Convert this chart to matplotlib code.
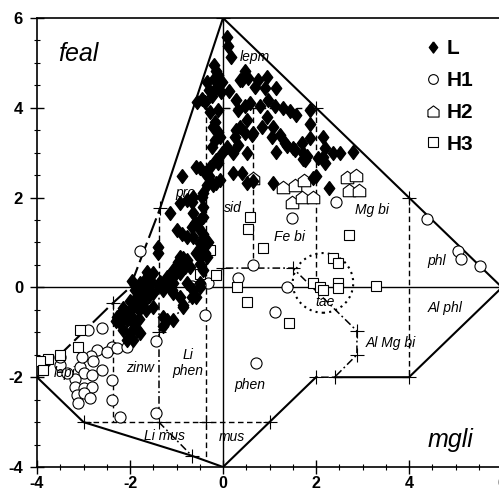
import matplotlib
matplotlib.use("Agg")
import matplotlib.pyplot as plt
from matplotlib.lines import Line2D
from matplotlib.patches import Ellipse

plt.rcParams["font.family"] = ["Liberation Sans", "DejaVu Sans"]
plt.rcParams["axes.unicode_minus"] = False

# --- data (mgli vs feal) ---
L_pts = [
    (0.09, 5.57), (0.1, 5.37), (0.18, 5.13), (-0.2, 4.95), (-0.15, 4.83), (-0.1, 4.72), (-0.2, 4.65),
    (-0.03, 4.57), (-0.35, 4.58), (-0.14, 4.45), (-0.3, 4.4), (-0.46, 4.2), (-0.39, 4.12), (-0.55, 4.12),
    (-0.24, 4.27), (-0.05, 4.35), (0.12, 4.38), (0.37, 4.62), (0.47, 4.82),
    (0.4, 4.62), (0.54, 4.66), (0.76, 4.62), (0.94, 4.69), (1.15, 4.45), (0.69, 4.47), (0.9, 4.43),
    (0.29, 4.17), (0.47, 4.03), (0.58, 4.1), (0.8, 4.03), (0.97, 4.17), (1.3, 3.99), (1.44, 3.93),
    (1.58, 3.84), (1.87, 3.95), (1.87, 3.65), (0.94, 3.8), (0.83, 3.58), (1.08, 3.58), (1.05, 3.36),
    (1.23, 3.39), (1.33, 3.21), (1.51, 3.1), (1.69, 3.21), (1.87, 3.32), (2.16, 3.36), (2.19, 3.1),
    (2.05, 2.88), (1.8, 2.93), (0.51, 3.73), (0.37, 3.58), (0.62, 3.39), (0.26, 3.36), (0.51, 2.99),
    (1.12, 4.03), (1.37, 3.14), (1.55, 3.06), (1.73, 2.99), (1.76, 2.84), (2.37, 2.99), (2.52, 2.99),
    (2.8, 3.02), (2.19, 2.76), (2.01, 2.47), (2.27, 2.21), (1.08, 2.32), (0.65, 2.36), (1.94, 2.43),
    (2.16, 2.91), (1.15, 3.02), (1.73, 2.87),
    (-0.28, 3.91), (-0.1, 3.95), (-0.17, 3.69), (-0.21, 3.58), (-0.1, 3.45), (-0.17, 3.28), (-0.06, 3.36),
    (-0.24, 3.13), (0.08, 3.13), (-0.03, 2.99), (-0.14, 2.84), (-0.28, 2.69), (-0.5, 2.65), (-0.39, 2.54),
    (-0.06, 2.39), (-0.35, 2.28), (-0.89, 2.47), (-0.42, 2.1), (-0.21, 2.28), (0.22, 2.99), (0.33, 3.17),
    (0.47, 3.43), (0.22, 2.54), (0.4, 2.54), (0.65, 3.43), (0.33, 3.95), (0.29, 3.51), (0.51, 2.32),
    (-0.57, 2.69), (-0.31, 2.47), (-0.14, 2.32), (-0.1, 2.76),
    (-0.78, 1.95), (-1.14, 1.65), (-0.92, 1.87), (-0.67, 1.91), (-0.46, 2.02), (-0.42, 1.8), (-0.64, 1.65),
    (-0.5, 1.5), (-0.99, 1.28), (-0.89, 1.2), (-0.78, 1.13), (-0.67, 1.35), (-0.53, 1.35), (-0.42, 1.2),
    (-0.39, 0.98), (-0.5, 0.98), (-0.92, 0.68), (-0.78, 0.61), (-0.71, 0.46), (-0.85, 0.53), (-0.5, 0.53),
    (-0.39, 0.76), (-0.42, 0.39), (-1.39, 0.76), (-1.39, 0.91), (-0.64, 1.13), (-0.32, 1.02), (-0.85, 0.65),
    (-0.5, 0.68), (-0.96, 0.57), (-1.07, 0.39), (-0.6, 1.43), (-0.42, 1.57), (-0.64, 2.02),
    (-1.64, 0.35), (-1.57, 0.16), (-1.35, 0.13), (-1.21, 0.16), (-1.07, 0.09), (-1.79, 0.02), (-1.89, -0.06),
    (-1.71, -0.13), (-1.5, -0.13), (-1.78, 0.09), (-1.64, 0.24), (-1.5, 0.31), (-1.21, 0.24), (-1.07, 0.24),
    (-0.93, 0.31), (-0.82, 0.46), (-0.57, 0.76), (-0.42, 0.91), (-0.35, 0.68), (-0.78, 0.09), (-0.64, -0.06),
    (-0.5, 0.09), (-1.07, -0.13), (-0.93, -0.21), (-1.86, -0.28), (-1.71, -0.35), (-1.93, -0.43),
    (-2.07, -0.58), (-2.29, -0.65), (-2.22, -0.8), (-2.07, -0.73), (-1.93, -0.8), (-2.14, -0.95),
    (-2.0, -1.02), (-1.86, -0.95), (-1.93, -1.17), (-2.07, -1.17), (-1.5, -0.43), (-1.28, -0.65),
    (-1.07, -0.73), (-0.85, -0.43), (-0.67, -0.21), (-0.5, 0.02), (-1.64, -0.06), (-1.57, 0.09),
    (-0.57, -0.21), (-1.95, 0.15), (-1.8, -0.05), (-1.7, 0.1), (-1.6, -0.2), (-1.4, 0.05), (-1.3, -0.05),
    (-1.2, 0.05), (-1.1, -0.05), (-1.9, -0.25), (-1.75, -0.2), (-2.0, -0.3), (-1.8, -0.5), (-2.15, -0.45),
    (-1.65, -0.5), (-2.3, -0.75), (-1.95, -0.65), (-1.8, -0.7), (-1.21, -0.73), (-1.28, -0.87),
    (-0.85, -0.39), (-2.21, -0.69), (-2.14, -0.5), (-1.78, -1.02),
]
H1_pts = [
    (2.43, 1.9), (1.48, 1.54), (4.38, 1.52), (5.05, 0.8), (5.12, 0.63), (5.53, 0.47), (1.38, 0.0),
    (1.12, -0.55), (0.72, -1.69), (0.65, 0.5), (0.33, 0.2), (-0.33, 0.1), (-0.67, 0.03), (-0.5, 0.05),
    (-1.79, 0.82), (-0.39, -0.62), (-1.45, -1.2), (-1.44, -2.8), (-2.21, -2.88),
    (-2.9, -0.95), (-2.6, -0.91), (-2.39, -1.32), (-2.72, -1.4), (-2.84, -1.53), (-2.79, -1.64),
    (-2.5, -1.43), (-2.29, -1.36), (-2.07, -1.32), (-3.51, -1.73), (-3.08, -1.77), (-3.0, -1.91),
    (-2.61, -1.84), (-3.18, -2.03), (-2.82, -1.95), (-2.39, -2.06), (-3.18, -2.21), (-3.0, -2.25),
    (-2.82, -2.21), (-3.15, -2.4), (-3.0, -2.36), (-2.86, -2.47), (-3.11, -2.58), (-2.39, -2.51),
    (-3.51, -1.54), (-3.36, -1.91), (-3.04, -1.54),
]
H2_pts = [
    (0.65, 2.43), (1.3, 2.24), (1.55, 2.28), (1.75, 2.4), (1.48, 1.9), (1.7, 2.02), (1.93, 2.02),
    (2.66, 2.45), (2.87, 2.5), (2.7, 2.17), (2.92, 2.18),
]
H3_pts = [
    (0.58, 1.57), (0.54, 1.31), (0.87, 0.87), (-0.28, 0.83), (-0.5, 0.3), (-0.14, 0.27), (0.3, 0.02),
    (0.52, -0.32), (1.41, -0.8), (2.7, 1.17), (2.37, 0.65), (2.48, 0.54), (1.94, 0.09), (2.09, 0.0),
    (2.16, -0.06), (2.48, 0.09), (2.48, -0.02), (3.3, 0.03), (-3.08, -0.95), (-3.11, -1.32),
    (-3.5, -1.5), (-3.76, -1.6), (-3.94, -1.65), (-3.87, -1.85),
]

# field boundaries
outer_solid = [(-1.35, 1.77), (0, 6), (2, 4), (4, 2), (6, 0), (4, -2), (2.4, -2)]
outer_solid2 = [(2, -2), (1, -3), (0, -4), (-0.67, -3.75), (-3, -3), (-4, -2)]
outer_dashed = [(-4, -2), (-2.37, -0.35), (-2, 0), (-1.35, 1.77)]
dashed_lines = [
    [(-0.37, 4), (2, 4)], [(-0.37, 4), (-0.37, -3.86)], [(0.65, 4), (0.65, 0.43)],
    [(2, 4), (2, 0.1)], [(4, 2), (4, -2)], [(-1.37, 1.77), (-1.37, 0)],
    [(-2.37, -0.35), (-2.37, -3)], [(-3, -3), (1, -3)],
]
dashdot_lines = [
    [(-1.38, 0), (-1.38, -3)], [(-1.38, -1), (0, 0.43), (1.5, 0.43), (2.88, -0.97), (2.88, -1.5), (2.4, -2), (2, -2)],
    [(-1.38, -3), (-0.67, -3.75)],
]
crosses = [(0, 6), (2, 4), (4, 2), (6, 0), (4, -2), (2.4, -2), (2, -2), (1, -3), (-0.67, -3.75), (-3, -3),
           (-2.37, -0.35), (-1.35, 1.77), (0, 4), (-1.38, -1), (-1.38, -3), (-0.37, -3), (0, 0.43),
           (1.5, 0.43), (2.88, -0.97), (2.88, -1.5)]
field_labels = [("lepm", 0.69, 5.13), ("pro", -0.8, 2.1), ("sid", 0.22, 1.77), ("Fe bi", 1.42, 1.12),
                ("Mg bi", 3.2, 1.72), ("phl", 4.6, 0.59), ("Al phl", 4.77, -0.46), ("tae", 2.2, -0.33),
                ("Al Mg bi", 3.6, -1.24), ("phen", 0.58, -2.17), ("Li\nphen", -0.75, -1.68),
                ("zinw", -1.78, -1.8), ("lepi", -3.4, -1.9), ("Li mus", -1.25, -3.31), ("mus", 0.2, -3.33)]

fig = plt.figure(figsize=(4.99, 4.93), dpi=100)
ax = fig.add_axes([37/499, 26/493, 465/499, 449/493])
ax.set_xlim(-4, 6); ax.set_ylim(-4, 6)

ax.axhline(0, color="black", lw=1.0, zorder=1)
ax.axvline(0, color="black", lw=1.0, zorder=1)

def draw(pts, **kw):
    xs, ys = zip(*pts)
    ax.plot(xs, ys, color="black", zorder=2, **kw)

draw(outer_solid, lw=1.5)
draw(outer_solid2, lw=1.5)
draw(outer_dashed, lw=1.5, dashes=(10, 2.5))
for seg in dashed_lines:
    draw(seg, lw=1.0, dashes=(4, 2.5))
for seg in dashdot_lines:
    draw(seg, lw=1.1, dashes=(5, 2, 1.2, 2))
ax.add_patch(Ellipse((2.15, 0.1), 1.3, 1.33, fill=False, ls=(0, (1, 2)), lw=1.5, zorder=2))
cx, cy = zip(*crosses)
ax.plot(cx, cy, "+", color="black", ms=10, mew=0.8, zorder=3, ls="none")

diamond = [(0, 1), (0.75, 0), (0, -1), (-0.75, 0), (0, 1)]
house = [(-1, -1), (1, -1), (1, 0.25), (0, 1), (-1, 0.25), (-1, -1)]

lx, ly = zip(*L_pts)
ax.plot(lx, ly, ls="none", marker=diamond, ms=10, color="black", zorder=5)
for pts, mk, ms in [(H1_pts, "o", 8), (H2_pts, house, 9), (H3_pts, "s", 7)]:
    px, py = zip(*pts)
    ax.plot(px, py, ls="none", marker=mk, ms=ms, mfc="white", mec="black", mew=0.8, zorder=4)

for txt, x, y in field_labels:
    ax.text(x, y, txt, ha="center", va="center", style="italic", fontsize=10, zorder=6)
ax.text(-3.55, 5.04, "feal", style="italic", fontsize=18, va="baseline", ha="left")
ax.text(4.39, -3.55, "mgli", style="italic", fontsize=18, va="baseline", ha="left")

handles = [
    Line2D([], [], ls="none", marker=diamond, ms=8, color="black"),
    Line2D([], [], ls="none", marker="o", ms=7, mfc="white", mec="black", mew=0.8),
    Line2D([], [], ls="none", marker=house, ms=8, mfc="white", mec="black", mew=0.8),
    Line2D([], [], ls="none", marker="s", ms=6.5, mfc="white", mec="black", mew=0.8),
]
ax.legend(handles, ["L", "H1", "H2", "H3"], loc="upper left", bbox_to_anchor=(0.795, 0.995),
          frameon=False, handlelength=0.7, handletextpad=0.3, labelspacing=0.62,
          prop={"size": 15, "weight": "bold"})

ax.set_xticks(range(-4, 7, 2)); ax.set_yticks(range(-4, 7, 2))
ax.set_xticks([v / 2 for v in range(-8, 13)], minor=True)
ax.set_yticks([v / 2 for v in range(-8, 13)], minor=True)
ax.tick_params(which="major", direction="inout", length=10, width=1, labelsize=12, pad=5)
ax.tick_params(axis="x", which="major", pad=1.5, labelsize=11.5)
ax.tick_params(which="minor", direction="inout", length=5, width=0.8)
for lab in ax.get_xticklabels() + ax.get_yticklabels():
    lab.set_fontweight("bold")
ax.spines["right"].set_visible(False)
for s in ["left", "bottom", "top"]:
    ax.spines[s].set_linewidth(1.2)

fig.savefig("out.png", dpi=100)
